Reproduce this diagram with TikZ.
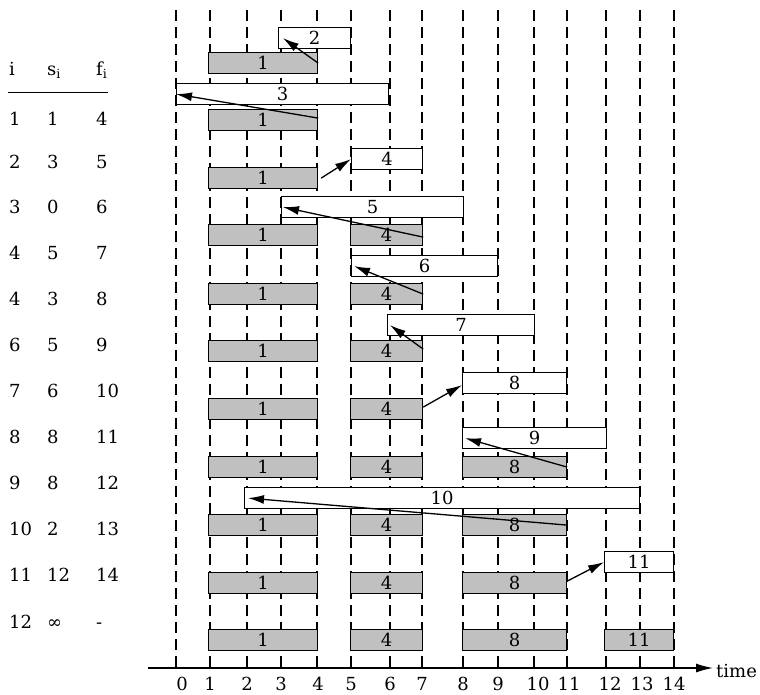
\documentclass[tikz,border=0pt]{standalone}
\usepackage{fontspec}
\setmainfont{DejaVu Serif}
\usetikzlibrary{arrows.meta}
\definecolor{boxgray}{RGB}{192,192,192}
\begin{document}
\begin{tikzpicture}[x=1pt,y=-1pt,
  font=\fontsize{18pt}{20pt}\selectfont,
  gridline/.style={dash pattern=on 10.5pt off 6.5pt, line width=1.1pt},
  gridthick/.style={gridline, line width=1.7pt},
  wbox/.style={draw, fill=white, line width=1.2pt, minimum height=21pt, inner sep=0pt, anchor=north west},
  gbox/.style={wbox, fill=boxgray},
  arr/.style={line width=1.3pt, -{Latex[length=16pt,width=9pt]}},
  tab/.style={anchor=base west, inner sep=0pt},
  tick/.style={anchor=base, inner sep=0pt}
]
\useasboundingbox (0,0) rectangle (760,694);

% dashed time lines
\foreach \x/\s in {176/gridthick,210/gridline,247/gridthick,281/gridline,317/gridthick,351/gridline,
  390/gridline,422/gridline,463/gridline,498/gridline,534/gridthick,567/gridline,606/gridline,640/gridthick,674/gridline}
  \draw[\s] (\x,10) -- (\x,668);

% axis
\coordinate (axstart) at (148,668);
\coordinate (axend) at (713,668);
\draw[line width=1.3pt, -{Latex[length=17pt,width=9pt]}] (axstart) -- (axend);
\node[anchor=base west, inner sep=0pt] (timelbl) at (716,677) {time};
\foreach \x/\t in {182/0,210/1,247/2,281/3,318/4,351/5,390/6,422/7,463/8,498/9,538/10,569/11,610/12,642/13,674/14}
  \node[tick] (t\t) at (\x,690) {\t};

% table
\node[tab] (h1) at (9,75) {i};
\node[tab] (h2) at (47,75) {s\textsubscript{i}};
\node[tab] (h3) at (96,75) {f\textsubscript{i}};
\coordinate (rulea) at (8,92);
\coordinate (ruleb) at (108,92);
\draw[line width=1pt] (rulea) -- (ruleb);
\foreach \y/\a/\b/\c [count=\k] in {125/1/1/4,168/2/3/5,213/3/0/6,259/4/5/7,305/4/3/8,351/6/5/9,
  397/7/6/10,443/8/8/11,489/9/8/12,535/10/2/13,581/11/12/14,628/12/∞/-}{
  \node[tab] (ta\k) at (9,\y) {\a};
  \node[tab] (tb\k) at (47,\y) {\b};
  \node[tab] (tc\k) at (96,\y) {\c};
}

% white (candidate) boxes
\node[wbox, minimum width=72pt]  (w2)  at (278,27)  {2};
\node[wbox, minimum width=212pt] (w3)  at (176,83)  {3};
\node[wbox, minimum width=71pt]  (w4)  at (351,148) {4};
\node[wbox, minimum width=182pt] (w5)  at (281,196) {5};
\node[wbox, minimum width=146pt] (w6)  at (351,255) {6};
\node[wbox, minimum width=147pt] (w7)  at (387,314) {7};
\node[wbox, minimum width=104pt] (w8)  at (462,372) {8};
\node[wbox, minimum width=144pt] (w9)  at (462,427) {9};
\node[wbox, minimum width=395pt] (w10) at (244,487) {10};
\node[wbox, minimum width=69pt]  (w11) at (604,551) {11};

% gray (selected) boxes
\foreach \r/\y in {A/52,B/109,C/167,D/224,E/283,F/340,G/398,H/456,I/514,J/572,K/629}
  \node[gbox, minimum width=109pt] (g1\r) at (208,\y) {1};
\foreach \r/\y in {D/224,E/283,F/340,G/398,H/456,I/514,J/572,K/629}
  \node[gbox, minimum width=72pt] (g4\r) at (350,\y) {4};
\foreach \r/\y in {H/456,I/514,J/572,K/629}
  \node[gbox, minimum width=104pt] (g8\r) at (462,\y) {8};
\node[gbox, minimum width=69pt] (g11K) at (604,629) {11};

% arrows
\draw[arr] (g1A.east) -- ([xshift=5pt]w2.west);
\draw[arr] ([yshift=2pt]g1B.east) -- (w3.west);
\draw[arr] ([xshift=3pt]g1C.east) -- (w4.west);
\draw[arr] ([yshift=-2pt]g4D.east) -- ([xshift=2pt]w5.west);
\draw[arr] (g4E.east) -- ([xshift=3pt]w6.west);
\draw[arr] ([yshift=2pt]g4F.east) -- ([xshift=3pt]w7.west);
\draw[arr] ([yshift=2pt]g4G.east) -- ([yshift=-2pt]w8.west);
\draw[arr] (g8H.east) -- ([xshift=3pt]w9.west);
\draw[arr] (g8I.east) -- ([xshift=4pt]w10.west);
\draw[arr] ([yshift=2pt]g8J.east) -- (w11.west);
\end{tikzpicture}
\end{document}
